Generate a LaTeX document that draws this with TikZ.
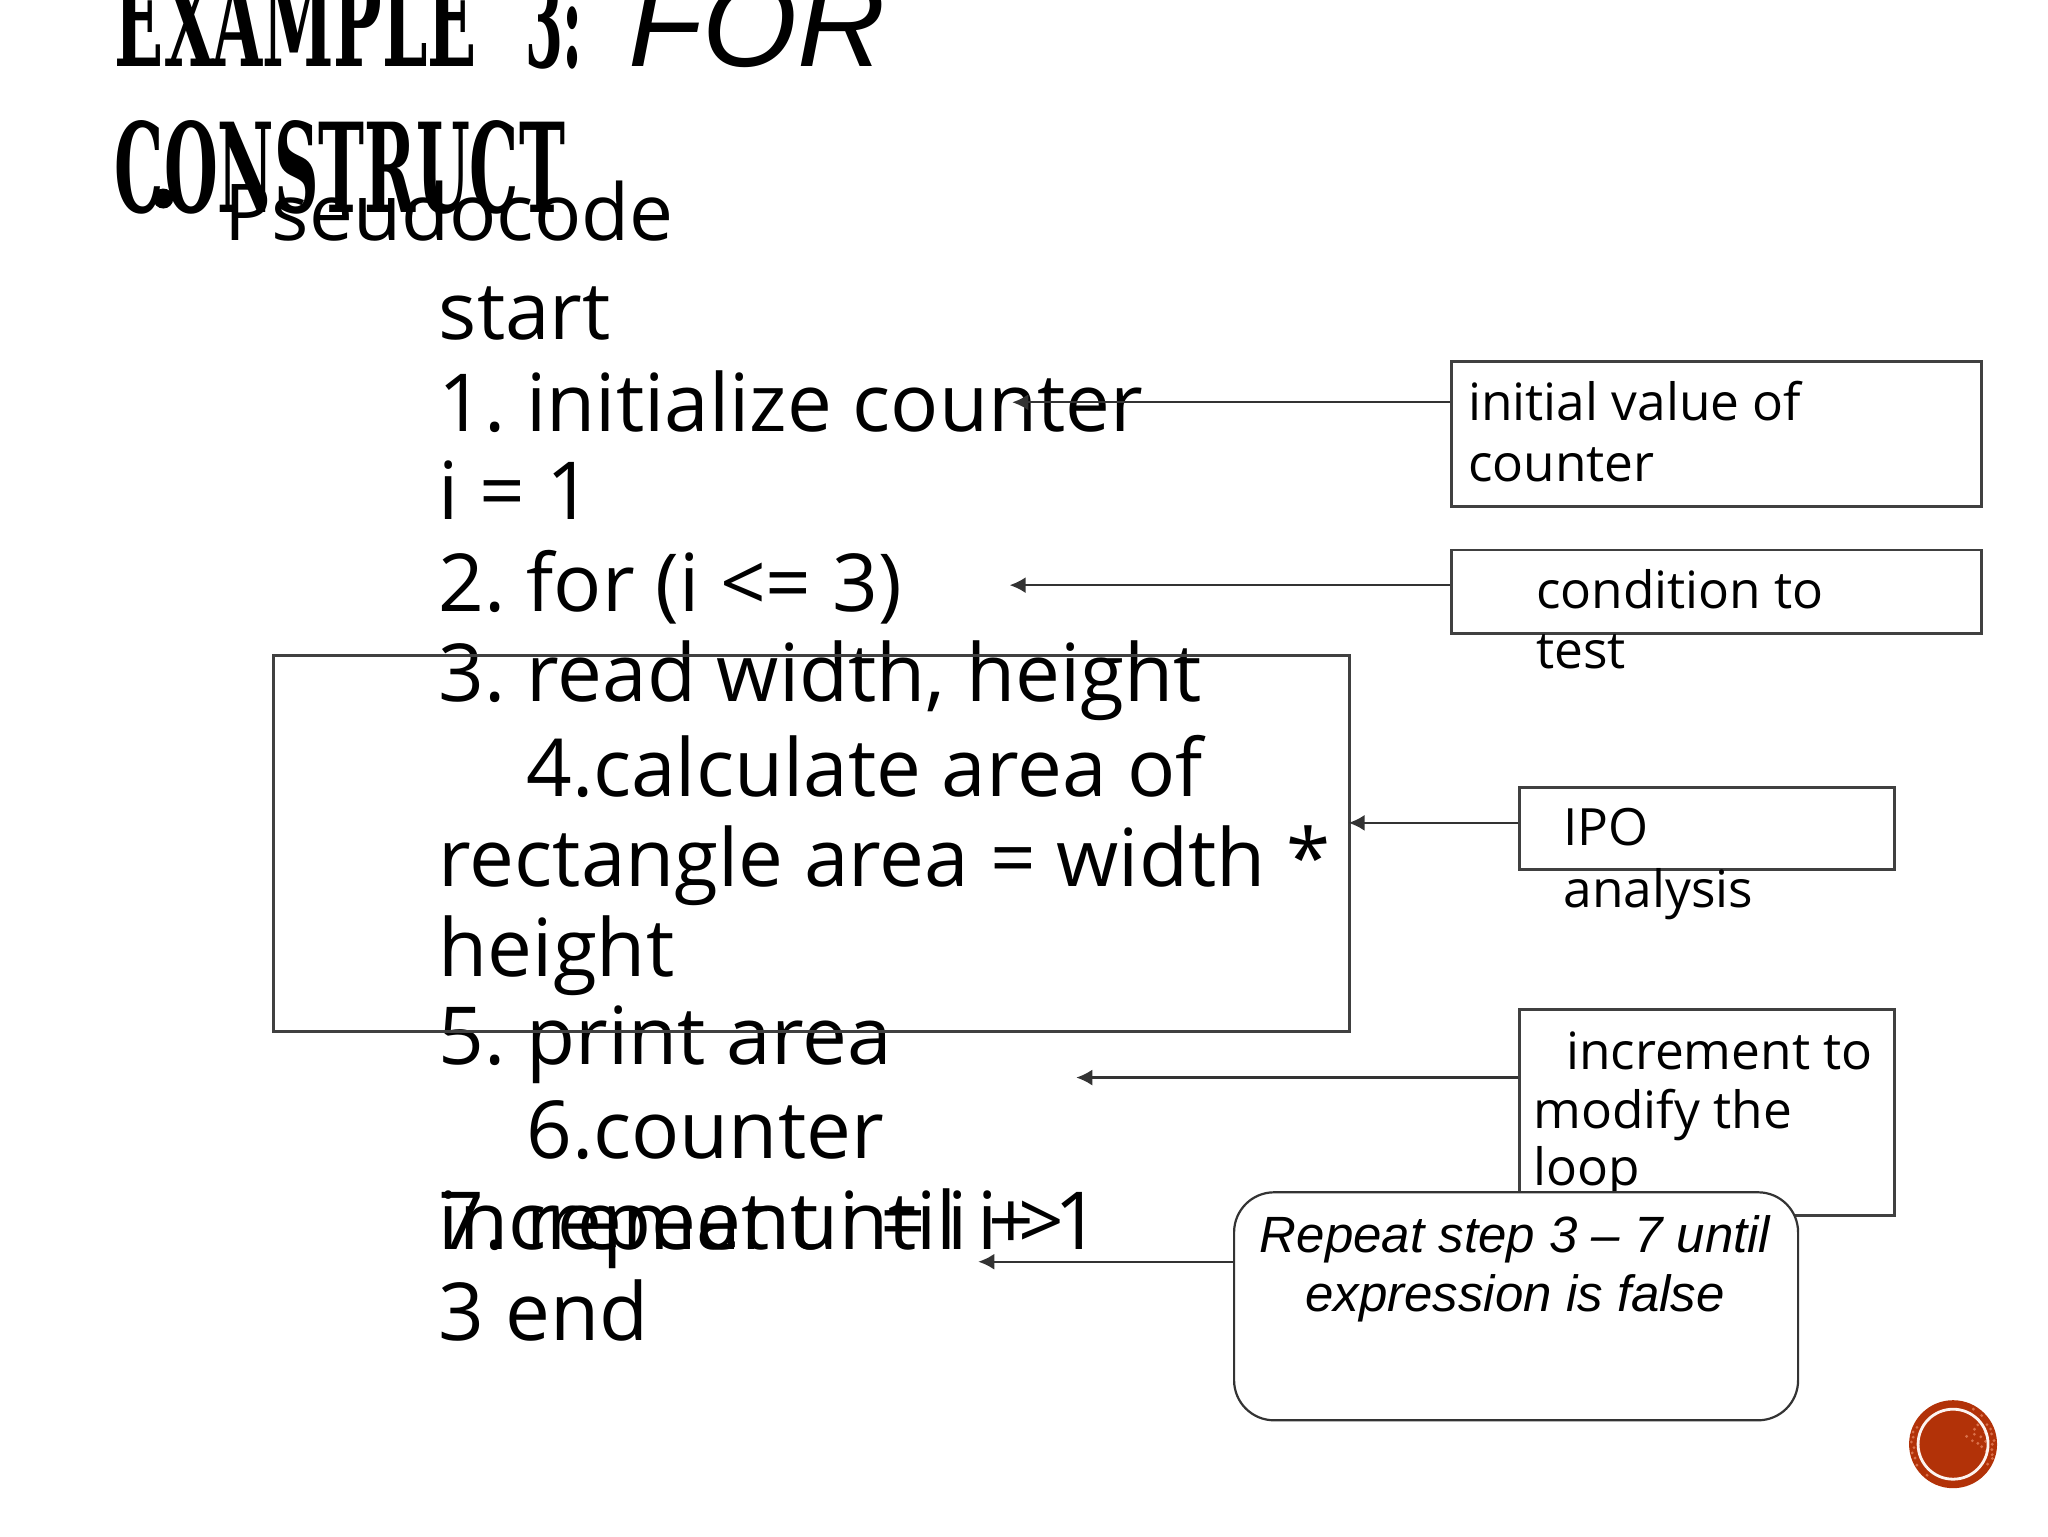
\documentclass[tikz,border=0pt]{standalone}
\usepackage{fontspec}
\setmainfont{Open Sans}
\newfontfamily\titlefont{DejaVu Serif}
\newfontfamily\arialfont{Liberation Sans}
\definecolor{badge}{HTML}{B23208}
\definecolor{speck}{HTML}{D9704A}
\usetikzlibrary{arrows.meta}
\tikzset{
  txt/.style={anchor=base west,inner sep=0pt,outer sep=0pt,text=black},
  code/.style={txt,font=\frenchspacing\fontsize{40}{50}\selectfont},
  head/.style={txt,font=\fontsize{39.2}{50}\selectfont},
  lab/.style={txt,font=\frenchspacing\fontsize{25.7}{30}\selectfont},
  rep/.style={anchor=base,inner sep=0pt,outer sep=0pt,font=\arialfont\itshape\fontsize{25.5}{30}\selectfont},
  tbox/.style={draw=black!75,line width=1.2pt,fill=none,inner sep=0pt,anchor=north west},
  link/.style={draw=black!80,line width=1.1pt,-{Latex[length=8pt,width=8pt]}}
}
\begin{document}
\begin{tikzpicture}[x=0.65306pt,y=-0.65306pt]
\useasboundingbox (0,0) rectangle (1568,1176);
\clip (0,0) rectangle (1568,1176);
% title
\node[txt] (t1) at (88,51) {\resizebox{181pt}{46pt}{\titlefont\bfseries EXAMPLE}};
\node[txt] (t2) at (402,51.5) {\resizebox{29pt}{46pt}{\titlefont\bfseries 3:}};
\node[txt] (t3) at (481,51) {\arialfont\itshape\fontsize{61}{70}\selectfont FOR};
\node[txt] (t4) at (88,163) {\resizebox{225pt}{46pt}{\titlefont\bfseries CONSTRUCT}};
% body
\node[anchor=center,circle,fill=black,minimum size=10pt,inner sep=0pt] (bul) at (125,152) {};
\node[head] (p) at (172,184) {Pseudocode};
\node[code] (l0) at (336,260) {start};
\node[code] (l1) at (336,330) {1. initialize counter};
\node[code] (l2) at (336,398) {i = 1};
\node[code] (l3) at (336,468) {2. for (i <= 3)};
\node[code] (l4) at (336,537) {3. read width, height};
\node[code] (l5) at (403,610) {4.calculate area of};
\node[code] (l6) at (336,679) {rectangle area = width *};
\node[code] (l7) at (336,748) {height};
\node[code] (l8) at (336,815) {5. print area};
\node[code] (l9) at (403,887) {6.counter};
\node[code] (l10) at (336,957) {increment i = i + 1};
\node[code] (l11) at (336,957) {7. repeat until i >};
\node[code] (l12) at (336,1026) {3 end};
% loop box
\node[tbox,minimum width=538pt,minimum height=188pt] (big) at (208.5,501) {};
% label boxes
\node[tbox,minimum width=265pt,minimum height=72.5pt] (b1) at (1110.5,276) {};
\node[lab] (b1a) at (1124,322) {initial value of};
\node[lab] (b1b) at (1124,369) {counter};
\node[tbox,minimum width=265pt,minimum height=41.8pt] (b2) at (1110.5,420) {};
\node[lab] (b2a) at (1176,466) {condition to};
\node[lab] (b2b) at (1176,512) {test};
\node[tbox,minimum width=187.5pt,minimum height=41pt] (b3) at (1162.5,602) {};
\node[lab] (b3a) at (1197,647) {IPO};
\node[lab] (b3b) at (1197,695) {analysis};
\node[tbox,minimum width=187.5pt,minimum height=103pt] (b4) at (1162.5,772) {};
\node[lab] (b4a) at (1199,819) {increment to};
\node[lab] (b4b) at (1174,864) {modify the};
\node[lab] (b4c) at (1174,908) {loop};
% repeat box
\node[draw=black!80,line width=1.1pt,fill=white,rounded corners=20pt,inner sep=0pt,anchor=north west,minimum width=282pt,minimum height=114pt] (b5) at (944,912) {};
\node[rep] (b5a) at (1160,959) {Repeat step 3 – 7 until};
\node[rep] (b5b) at (1160,1004) {expression is false};
% arrows
\coordinate (e1) at (775,308);
\coordinate (e2) at (773,448);
\coordinate (e3) at (1032.5,630);
\coordinate (e4) at (824,825);
\coordinate (e5) at (749,966);
\draw[link] (b1.west |- e1) -- (e1);
\draw[link] (b2.west |- e2) -- (e2);
\draw[link] (b3.west |- e3) -- (e3);
\draw[link] (b4.west |- e4) -- (e4);
\draw[link] (b5.west |- e5) -- (e5);
% badge
\node[circle,fill=badge,minimum size=44pt,inner sep=0pt] (badge) at (1495.3,1105.7) {};
\foreach \a/\r in {-30/30,-15/30.5,0/30,15/31,-45/31,-60/31,160/31,175/30,190/31,205/30.5,-5/31.5,20/32,130/31,30/30.5,8/30,-22/31,150/32,183/32,197/32,168/32,-38/24,-25/18,-15/22,-35/20,-5/25,-20/26,-10/15,5/22,-30/12,12/26,-45/27,-2/19}
  \fill[speck] (1495.3,1105.7) ++(\a:\r) circle (1.2);
\node[circle,draw=white!92!speck,line width=1.4pt,minimum size=35pt,inner sep=0pt] (ring) at (1495.3,1105.7) {};
\end{tikzpicture}
\end{document}
